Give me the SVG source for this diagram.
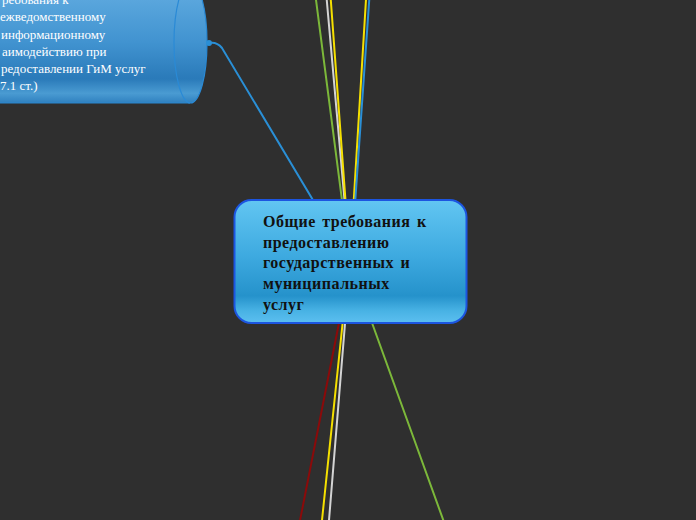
<svg xmlns="http://www.w3.org/2000/svg" width="696" height="520" viewBox="0 0 696 520">
<defs>
<linearGradient id="gMain" x1="0" y1="0" x2="0" y2="1">
<stop offset="0" stop-color="#62c6f2"/>
<stop offset="0.45" stop-color="#3eaae0"/>
<stop offset="0.78" stop-color="#2592cb"/>
<stop offset="0.9" stop-color="#48b2e4"/>
<stop offset="1" stop-color="#5cbff0"/>
</linearGradient>
<linearGradient id="gCyl" x1="0" y1="0" x2="0" y2="1">
<stop offset="0" stop-color="#64aee2"/>
<stop offset="0.5" stop-color="#4193d0"/>
<stop offset="0.8" stop-color="#2a7ab9"/>
<stop offset="0.92" stop-color="#4a9bd2"/>
<stop offset="1" stop-color="#2f80bf"/>
</linearGradient>
<style>
.ln{fill:none;stroke-width:2;stroke-linecap:round}
.ctext{font-family:"Liberation Serif","Times New Roman",serif;font-size:13px;fill:#ffffff}
.mtext{font-family:"Liberation Serif","Times New Roman",serif;font-size:16px;font-weight:bold;fill:#111111;letter-spacing:0.5px}
</style>
</defs>
<rect width="696" height="520" fill="#2f2f2f"/>
<g id="connectors">
<line class="ln" x1="350" y1="262" x2="315.5" y2="-4" stroke="#7cb83a"/>
<line class="ln" x1="350" y1="262" x2="326.4" y2="-4" stroke="#d4d4d4"/>
<line class="ln" x1="350" y1="262" x2="330.5" y2="-4" stroke="#f5e000"/>
<line class="ln" x1="350" y1="262" x2="366.2" y2="-4" stroke="#f5e000"/>
<line class="ln" x1="351" y1="262" x2="369.5" y2="-4" stroke="#2a8fd6"/>
<line class="ln" x1="351" y1="262" x2="299.3" y2="524" stroke="#8b0a0a"/>
<line class="ln" x1="349" y1="262" x2="321.6" y2="524" stroke="#f5e000"/>
<line class="ln" x1="350" y1="262" x2="328.7" y2="524" stroke="#d4d4d4"/>
<line class="ln" x1="350" y1="262" x2="444.7" y2="524" stroke="#7cb83a"/>
<path class="ln" d="M350,262 L222,48 Q217,42 210,43" stroke="#2a8fd6"/>
</g>
<g id="node-cylinder">
<rect x="-10" y="-18" width="200" height="121" fill="url(#gCyl)"/>
<line x1="-10" y1="103" x2="190" y2="103" stroke="#2a88d0" stroke-width="1.2"/>
<ellipse cx="190.5" cy="42.5" rx="16.5" ry="60.5" fill="url(#gCyl)" stroke="#2a8ad6" stroke-width="1.2"/>
<circle cx="209" cy="43" r="3" fill="#2a8fd6"/>
<text class="ctext" x="2" y="4">ребования к</text>
<text class="ctext" x="0" y="21">ежведомственному</text>
<text class="ctext" x="1" y="38.5">информационному</text>
<text class="ctext" x="2" y="56">аимодействию при</text>
<text class="ctext" x="1" y="73">редоставлении ГиМ услуг</text>
<text class="ctext" x="0" y="90">7.1 ст.)</text>
</g>
<g id="node-main">
<rect x="234.5" y="200" width="232" height="123" rx="17" fill="url(#gMain)" stroke="#1c55e0" stroke-width="2"/>
<text class="mtext" x="263" y="227" word-spacing="2">Общие требования к</text>
<text class="mtext" x="263" y="247.5">предоставлению</text>
<text class="mtext" x="263" y="268" word-spacing="2">государственных и</text>
<text class="mtext" x="263" y="289">муниципальных</text>
<text class="mtext" x="263" y="309.5">услуг</text>
</g>
</svg>
